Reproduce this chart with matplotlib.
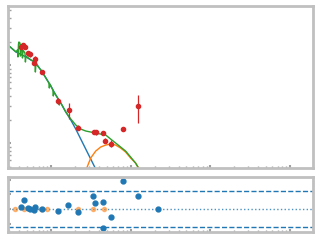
import matplotlib
matplotlib.use("Agg")
import matplotlib.pyplot as plt
import numpy as np

# observed SED points (log10 nu [Hz], nuFnu [1e-11 erg/cm2/s])
obs_log_nu = [13.625, 13.65, 13.675, 13.71, 13.74, 13.79, 13.80, 13.89, 14.09,
              14.23, 14.34, 14.54, 14.56, 14.65, 14.68, 14.76, 14.91, 15.09]
obs_flux = [17.0, 18.0, 17.0, 14.1, 13.8, 10.7, 12.0, 8.1, 3.47,
            2.63, 1.58, 1.38, 1.38, 1.35, 1.07, 0.98, 1.51, 2.95]
obs_err = [1.2, 1.3, 1.2, 1.0, 1.0, 0.8, 0.9, 0.5, 0.35,
           0.6, 0.1, 0.08, 0.1, 0.08, 0.08, 0.1, 0.1, 1.16]

# model components (log10 nu, log10 nuFnu)
pl_log_nu = [13.475, 13.5625, 13.6875, 13.8125, 13.9, 14.0, 14.0625, 14.125,
             14.1875, 14.25, 14.3125, 14.375, 14.4375, 14.5, 14.5625]
pl_log_f = [-9.756, -9.833, -9.897, -9.974, -10.103, -10.269, -10.385, -10.487,
            -10.603, -10.705, -10.821, -10.949, -11.077, -11.205, -11.333]

bb_log_nu = [14.425, 14.45, 14.5, 14.5625, 14.625, 14.6875, 14.75, 14.8125,
             14.875, 14.9375, 15.0, 15.0625, 15.1, 15.1375]
bb_log_f = [-11.41, -11.321, -11.192, -11.103, -11.051, -11.026, -11.013, -11.026,
            -11.064, -11.115, -11.192, -11.256, -11.321, -11.385]

tot_log_nu = [13.475, 13.5625, 13.58, 13.5875, 13.594, 13.6, 13.6125, 13.619,
              13.625, 13.6375, 13.644, 13.65, 13.675, 13.681, 13.6875, 13.75,
              13.8, 13.806, 13.8125, 13.875, 13.9375, 13.975, 13.981, 13.9875,
              14.025, 14.031, 14.0375, 14.1, 14.106, 14.1125, 14.125, 14.1875,
              14.25, 14.3125, 14.375, 14.4375, 14.5, 14.5625, 14.625, 14.6875,
              14.75, 14.8125, 14.875, 14.9375, 15.0, 15.0625, 15.1, 15.1375]
tot_log_f = [-9.756, -9.833, -9.808, -9.897, -9.731, -9.705, -9.718, -9.885,
             -9.744, -9.782, -9.910, -9.808, -9.846, -9.962, -9.885, -9.936,
             -9.962, -10.090, -9.987, -10.064, -10.167, -10.231, -10.295, -10.244,
             -10.321, -10.397, -10.346, -10.449, -10.513, -10.474, -10.487, -10.603,
             -10.692, -10.769, -10.821, -10.846, -10.859, -10.872, -10.885, -10.897,
             -10.949, -11.0, -11.051, -11.103, -11.179, -11.256, -11.321, -11.385]

# residuals
res_log_nu = [13.625, 13.66, 13.71, 13.74, 13.79, 13.80, 13.89, 14.09, 14.21,
              14.34, 14.525, 14.55, 14.65, 14.66, 14.76, 14.90, 15.09, 15.35]
res_val = [0.14, 0.61, 0.07, 0.0, -0.07, 0.14, 0.0, -0.14, 0.27,
           -0.2, 0.88, 0.41, 0.48, -1.29, -0.54, 1.9, 0.88, 0.0]
lim_log_nu = [13.55, 13.6625, 13.79, 13.875, 13.95, 14.3375, 14.525, 14.6625]
lim_val = [0, 0, 0, 0, 0, 0, 0, 0]
res_band = 1.22

SPINE = "#c0c0c0"


def style_axes(ax):
    for side in ("left", "right", "top", "bottom"):
        ax.spines[side].set_color(SPINE)
        ax.spines[side].set_linewidth(2)
    ax.tick_params(which="both", direction="in", colors="#a0a0a0",
                   labelleft=False, labelbottom=False, right=False, top=False)
    ax.tick_params(which="major", length=2.5, width=1.5)
    ax.tick_params(which="minor", length=1.8, width=1)


fig = plt.figure(figsize=(3.2, 2.4), dpi=100)
ax = fig.add_axes([0.025, 0.3, 0.953, 0.675])
axr = fig.add_axes([0.025, 0.033, 0.953, 0.229])

nu = 10 ** np.array(obs_log_nu)
flux = np.array(obs_flux) * 1e-11
err = np.array(obs_err) * 1e-11

ax.plot(10 ** np.array(pl_log_nu), 10 ** np.array(pl_log_f), color="tab:blue", lw=1)
ax.plot(10 ** np.array(bb_log_nu), 10 ** np.array(bb_log_f), color="tab:orange", lw=1)
ax.plot(10 ** np.array(tot_log_nu), 10 ** np.array(tot_log_f), color="tab:green", lw=1)
ax.errorbar(nu, flux, yerr=err, fmt="o", color="tab:red", ms=3, elinewidth=0.9)
ax.set_xscale("log")
ax.set_yscale("log")
ax.set_xlim(10 ** 13.4625, 10 ** 17.2875)
ax.set_ylim(10 ** -11.32, 10 ** -9.244)
style_axes(ax)

axr.axhline(res_band, color="tab:blue", ls="--", lw=1)
axr.axhline(-res_band, color="tab:blue", ls="--", lw=1)
axr.axhline(0, color="tab:blue", ls=":", lw=1, alpha=0.8)
axr.plot(10 ** np.array(lim_log_nu), lim_val, "o", color="tab:orange", ms=3, alpha=0.5)
axr.plot(10 ** np.array(res_log_nu), res_val, "o", color="tab:blue", ms=3.5)
axr.set_xscale("log")
axr.set_xlim(10 ** 13.4625, 10 ** 17.2875)
axr.set_ylim(-1.56, 2.18)
axr.set_yticks([-1, 0, 1, 2])
style_axes(axr)

fig.savefig("out.png", dpi=100)
